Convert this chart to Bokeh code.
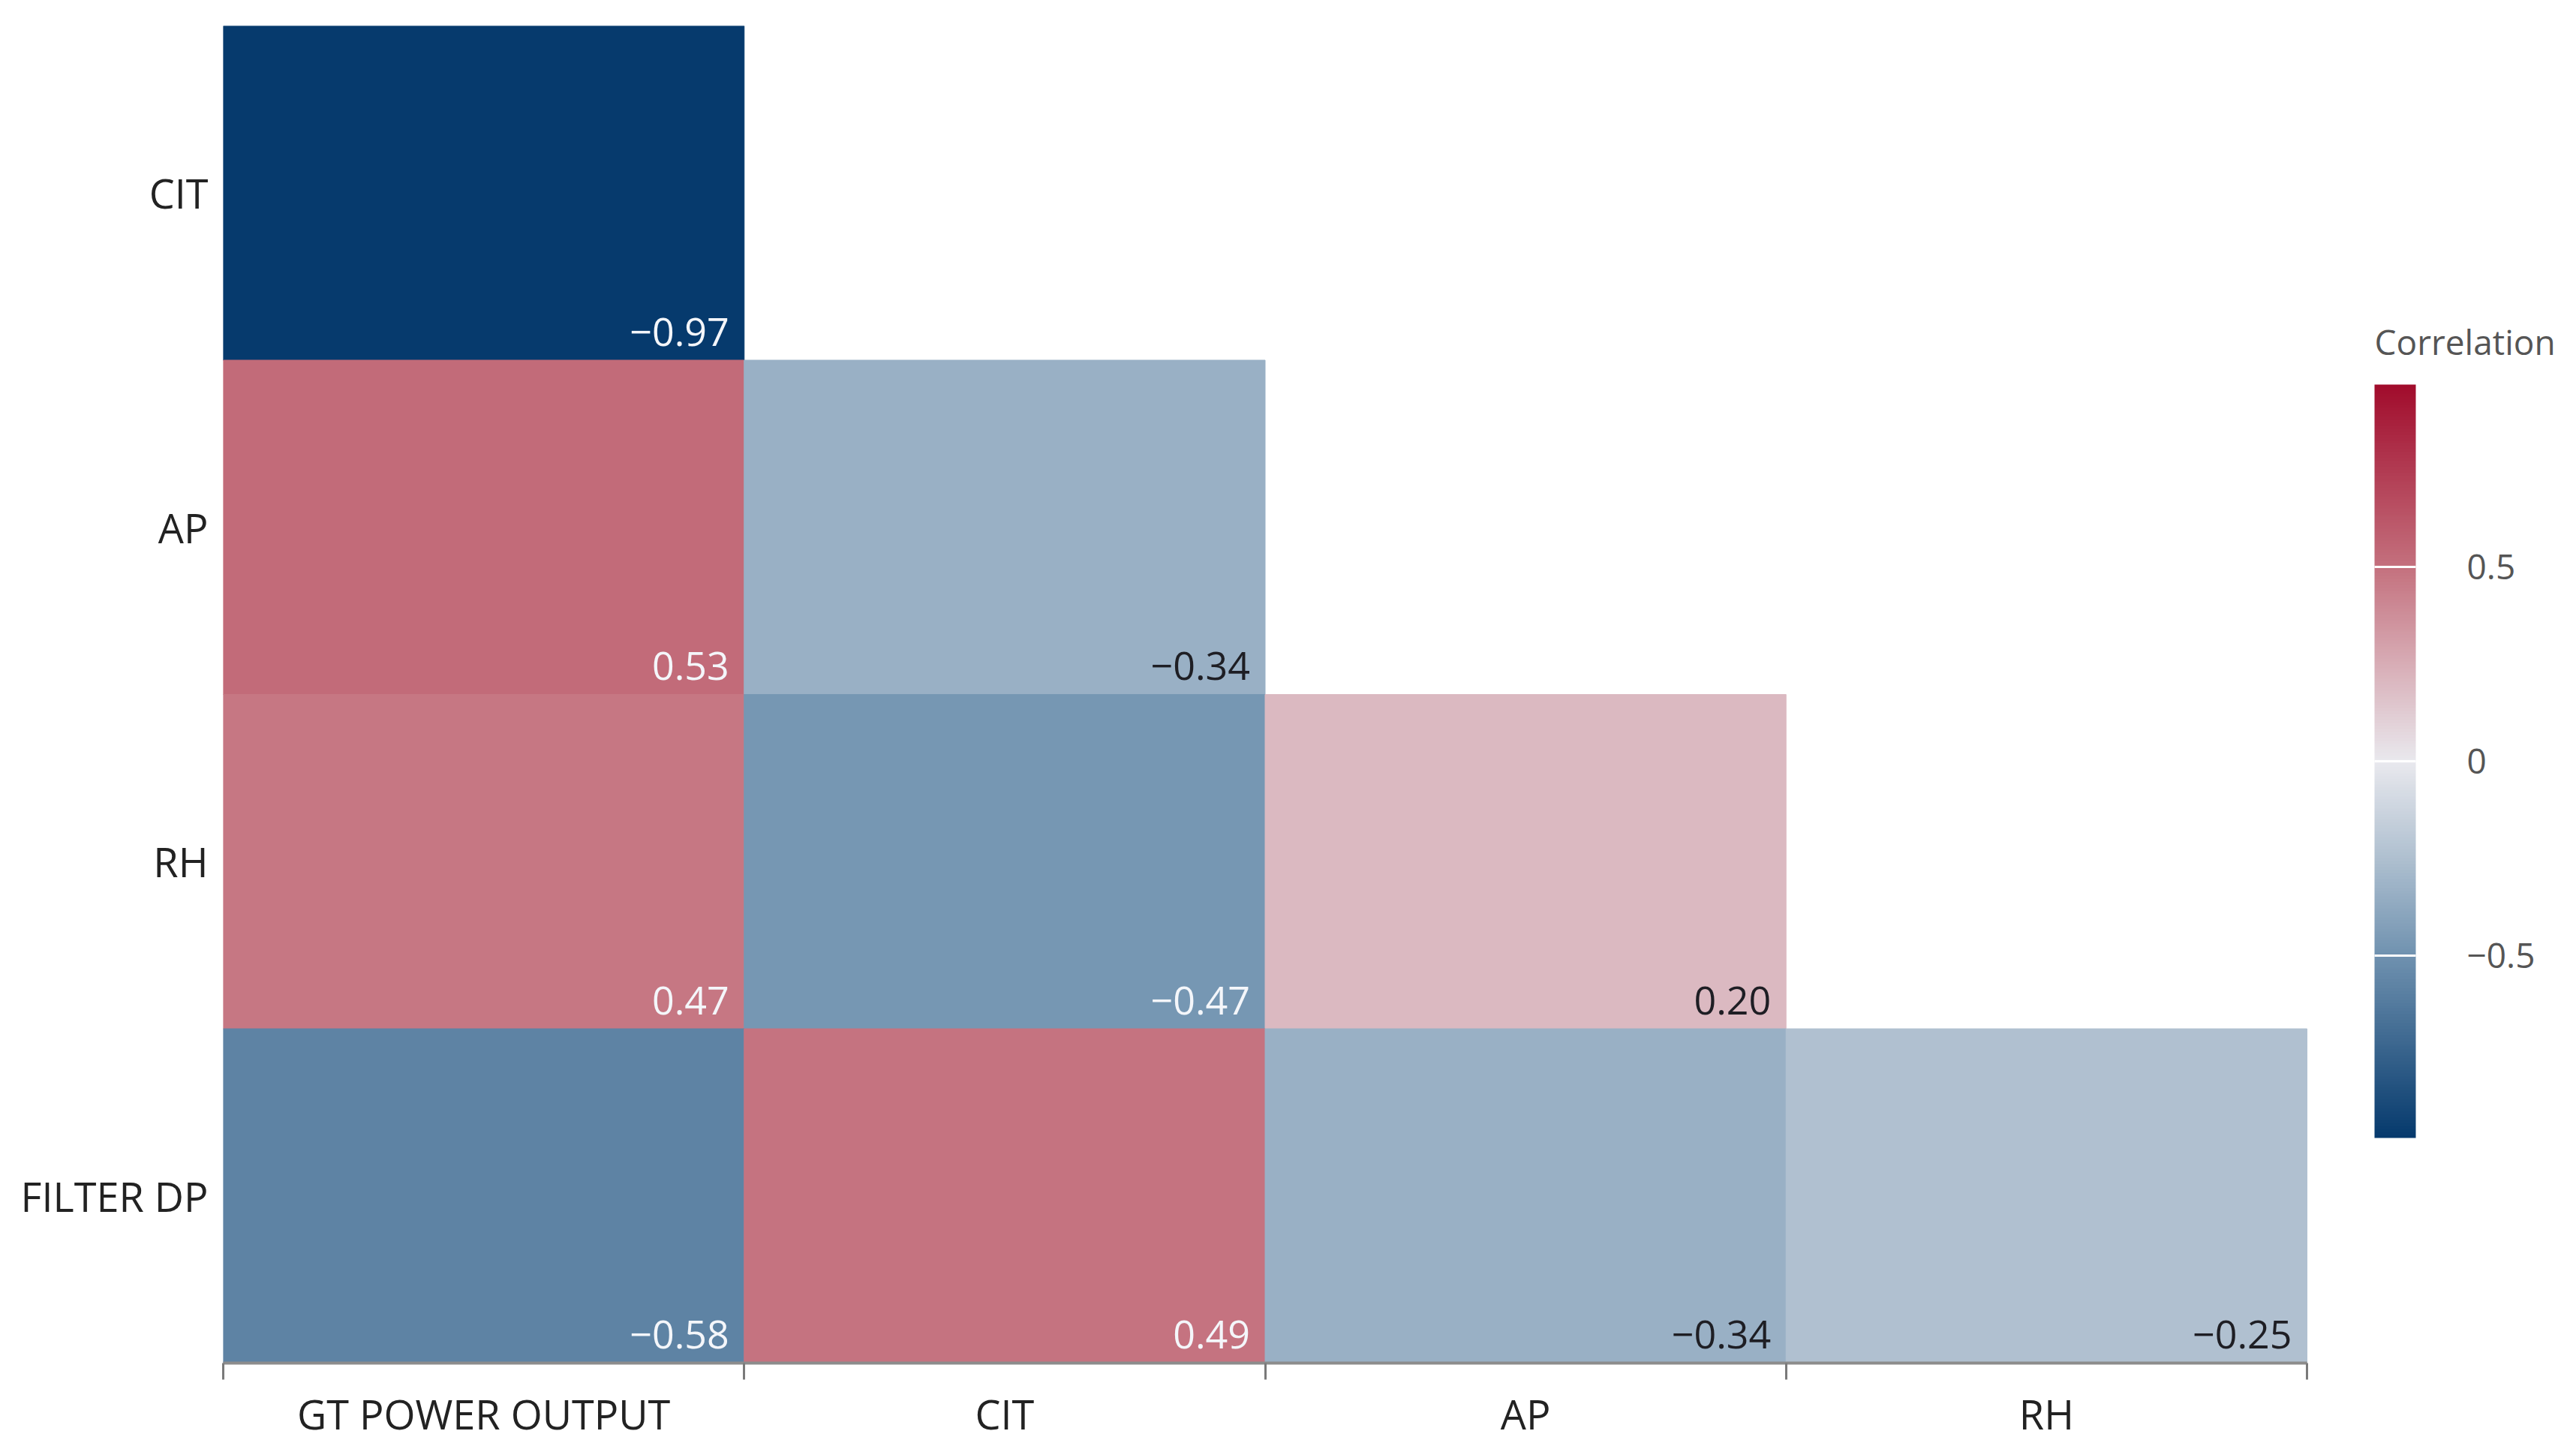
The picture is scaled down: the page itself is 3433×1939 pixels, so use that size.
import numpy as np
from bokeh.plotting import figure
from bokeh.models import ColumnDataSource, LinearColorMapper, ColorBar, FixedTicker, Range1d, Label
from bokeh.transform import transform
from bokeh.core.properties import value
from bokeh.embed import file_html
from bokeh.resources import INLINE

# ---- data ----
columns = ["GT POWER OUTPUT", "CIT", "AP", "RH"]
rows = ["CIT", "AP", "RH", "FILTER DP"]
corr = [
    [-0.97],
    [0.53, -0.34],
    [0.47, -0.47, 0.20],
    [-0.58, 0.49, -0.34, -0.25],
]
cbar_ticks = [-0.5, 0.0, 0.5]
cbar_low, cbar_high = -0.97, 0.97
cbar_title = "Correlation"

# ---- colour scale (diverging red/blue) ----
anchor_vals = [-0.97, -0.5, -0.25, 0.0, 0.25, 0.5, 0.97]
anchor_cols = ["#063a6d", "#7092b0", "#afc0d0", "#e9e9ee", "#d8adb6", "#c4717e", "#a10c2c"]

def hex2rgb(h):
    h = h.lstrip("#")
    return [int(h[i:i + 2], 16) for i in (0, 2, 4)]

rgb = np.array([hex2rgb(c) for c in anchor_cols], dtype=float)
grid = np.linspace(cbar_low, cbar_high, 256)
palette = []
for g in grid:
    r = np.interp(g, anchor_vals, rgb[:, 0])
    gg = np.interp(g, anchor_vals, rgb[:, 1])
    b = np.interp(g, anchor_vals, rgb[:, 2])
    palette.append("#%02x%02x%02x" % (int(round(r)), int(round(gg)), int(round(b))))

mapper = LinearColorMapper(palette=palette, low=cbar_low, high=cbar_high)

n = len(rows)
ncol = len(columns)
xs, ys, vals, labels, tx, ty, tcol = [], [], [], [], [], [], []
for i, row in enumerate(corr):
    for j, v in enumerate(row):
        xs.append(j + 0.5)
        ys.append(n - 1 - i + 0.5)
        vals.append(v)
        labels.append(f"{v:.2f}".replace("-", "\u2212"))
        tx.append(j + 1)
        ty.append(n - 1 - i)
        tcol.append("#f4f6fa" if abs(v) >= 0.4 else "#1e1e24")

src = ColumnDataSource(dict(x=xs, y=ys, v=vals, label=labels, tx=tx, ty=ty, tcol=tcol))

W, H = 3417, 1923
LEFT, TOP, BOTTOM = 297, 34, 98
frame_h = H - TOP - BOTTOM
cell_w = 694.25
cell_h = frame_h / n
# frame extends to the right edge so the colour bar and its title sit inside it
x_end = ncol + (W - LEFT - ncol * cell_w) / cell_w

p = figure(width=W, height=H, x_range=Range1d(0, x_end), y_range=Range1d(0, n),
           output_backend="svg", toolbar_location=None, tools="",
           min_border_left=LEFT, min_border_top=TOP, min_border_bottom=BOTTOM, min_border_right=0)
p.outline_line_color = None
p.xgrid.visible = False
p.ygrid.visible = False
p.background_fill_color = "white"
p.border_fill_color = "white"

p.rect(x="x", y="y", width=1, height=1, source=src,
       fill_color=transform("v", mapper), line_color=transform("v", mapper), line_width=1)

p.text(x="tx", y="ty", text="label", source=src, text_align="right", text_baseline="alphabetic",
       x_offset=-20, y_offset=-38, text_color="tcol", text_font=value("Open Sans"),
       text_font_size="52px")

# x axis: ticks at cell boundaries, labels at centres
xa = p.xaxis[0]
xa.bounds = (0, ncol)
xa.ticker = FixedTicker(ticks=[k + 0.5 for k in range(ncol)],
                        minor_ticks=list(range(ncol + 1)))
xa.major_label_overrides = {k + 0.5: c for k, c in enumerate(columns)}
xa.major_tick_line_color = None
xa.major_tick_out = 0
xa.minor_tick_in = 0
xa.minor_tick_out = 22
xa.minor_tick_line_color = "#7a7a7a"
xa.minor_tick_line_width = 3
xa.axis_line_color = "#8c8c8c"
xa.axis_line_width = 4
xa.major_label_text_font = "Open Sans"
xa.major_label_text_font_size = "54px"
xa.major_label_text_color = "#222222"
xa.major_label_standoff = 8

ya = p.yaxis[0]
ya.ticker = FixedTicker(ticks=[k + 0.5 for k in range(n)], minor_ticks=[])
ya.major_label_overrides = {n - 1 - k + 0.5: r for k, r in enumerate(rows)}
ya.major_tick_line_color = None
ya.major_tick_out = 0
ya.minor_tick_line_color = None
ya.axis_line_color = None
ya.major_label_text_font = "Open Sans"
ya.major_label_text_font_size = "54px"
ya.major_label_text_color = "#222222"
ya.major_label_standoff = 20

CB_X, CB_Y, CB_H = 2867, 300, 1004
cb = ColorBar(color_mapper=mapper, ticker=FixedTicker(ticks=cbar_ticks),
              width=55, height=CB_H, location=(CB_X, CB_Y),
              major_label_text_font="Open Sans", major_label_text_font_size="46px",
              major_label_text_color="#555555", label_standoff=68,
              major_tick_line_color="white", major_tick_line_width=3,
              major_tick_in=55, major_tick_out=0, minor_tick_line_color=None,
              bar_line_color=None, padding=0, margin=0,
              background_fill_color=None, border_line_color=None)
p.add_layout(cb, "center")

# colour-bar title, just above the bar
p.add_layout(Label(x=CB_X / cell_w, y=(CB_Y + CB_H + 64) / cell_h, text=cbar_title,
                   text_font="Open Sans", text_font_size="46px", text_color="#555555",
                   text_align="left", text_baseline="middle"))

open("out.html", "w").write(file_html(p, INLINE))
